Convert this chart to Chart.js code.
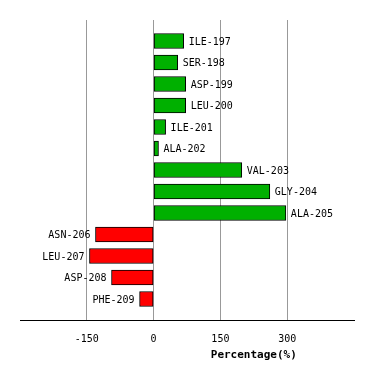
<!DOCTYPE html>
<html>
<head>
<meta charset="utf-8">
<script src="https://cdn.jsdelivr.net/npm/chart.js@4/dist/chart.umd.min.js"></script>
<style>
html,body{margin:0;padding:0;background:#fff;}
#wrap{width:374px;height:380px;}
</style>
</head>
<body>
<div id="wrap"><canvas id="c" width="374" height="380"></canvas></div>
<script>
const categories = ['ILE-197','SER-198','ASP-199','LEU-200','ILE-201','ALA-202','VAL-203','GLY-204','ALA-205','ASN-206','LEU-207','ASP-208','PHE-209'];
const values = [67.5, 54, 72, 72, 27, 11, 198, 261, 297, -130.5, -144, -94.5, -31.5];
const xTicks = [-150, 0, 150, 300];
const xMin = -300, xMax = 450;
const axisTitle = 'Percentage(%)';

const labelPlugin = {
  id: 'barLabels',
  afterDatasetsDraw(chart) {
    const ctx = chart.ctx;
    const meta = chart.getDatasetMeta(0);
    ctx.save();
    ctx.font = '10px "DejaVu Sans Mono"';
    ctx.fillStyle = '#000';
    ctx.textBaseline = 'middle';
    meta.data.forEach((el, i) => {
      const v = values[i];
      if (v >= 0) {
        ctx.textAlign = 'left';
        ctx.fillText(categories[i], el.x + 5, el.y + 1);
      } else {
        ctx.textAlign = 'right';
        ctx.fillText(categories[i], el.x - 5, el.y + 1);
      }
    });
    const xs = chart.scales.x;
    ctx.font = 'bold 11px "DejaVu Sans Mono"';
    ctx.textAlign = 'center';
    ctx.fillText(axisTitle, xs.getPixelForValue((0 + xMax) / 2), 355);
    ctx.restore();
  }
};

new Chart(document.getElementById('c'), {
  type: 'bar',
  data: {
    datasets: [{
      data: values.map((v, i) => ({x: v, y: i})),
      backgroundColor: values.map(v => v >= 0 ? '#00b000' : '#ff0000'),
      borderColor: '#000',
      borderWidth: 1,
      borderSkipped: false,
      barThickness: 15
    }]
  },
  options: {
    indexAxis: 'y',
    responsive: false,
    animation: false,
    devicePixelRatio: 1,
    layout: {padding: {left: 20, right: 20, top: 20, bottom: 0}},
    plugins: {legend: {display: false}, tooltip: {enabled: false}},
    scales: {
      x: {
        type: 'linear',
        min: xMin,
        max: xMax,
        afterBuildTicks: s => { s.ticks = xTicks.map(v => ({value: v})); },
        afterFit: s => { s.height = 60; },
        grid: {color: '#999', drawTicks: false, lineWidth: 1},
        border: {display: true, color: '#000', width: 1},
        ticks: {font: {family: '"DejaVu Sans Mono"', size: 10}, color: '#000', padding: 13, maxRotation: 0}
      },
      y: {
        type: 'linear',
        min: -0.977,
        max: 12.977,
        offset: false,
        reverse: true,
        display: false
      }
    }
  },
  plugins: [labelPlugin]
});
</script>
</body>
</html>
